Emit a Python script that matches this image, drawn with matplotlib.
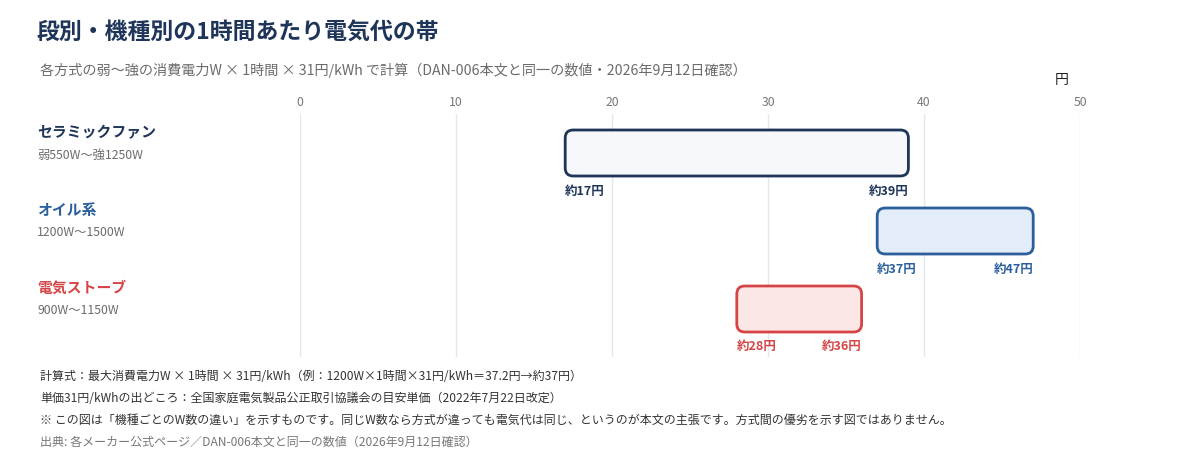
import matplotlib
matplotlib.use("Agg")
import matplotlib.pyplot as plt
from matplotlib.patches import FancyBboxPatch

plt.rcParams['font.family'] = ['Noto Sans CJK JP', 'DejaVu Sans']

categories = ["セラミックファン", "オイル系", "電気ストーブ"]
watt_labels = ["弱550W〜強1250W", "1200W〜1500W", "900W〜1150W"]
low_yen = [17, 37, 28]
high_yen = [39, 47, 36]
low_labels = ["約17円", "約37円", "約28円"]
high_labels = ["約39円", "約47円", "約36円"]
edge_colors = ["#1e3559", "#2b5f9c", "#d64545"]
fill_colors = ["#f6f8fc", "#e3edf9", "#fbe7e6"]
ticks = [0, 10, 20, 30, 40, 50]

W, H = 1200, 460
fig = plt.figure(figsize=(W / 100, H / 100), dpi=100)

def fy(y):
    return 1 - y / H

ax_left, ax_right, ax_top, ax_bot = 300, 1080, 115, 358
ax = fig.add_axes([ax_left / W, fy(ax_bot), (ax_right - ax_left) / W, (ax_bot - ax_top) / H])
row_px = 78.0
ax.set_xlim(0, 50)
ax.set_ylim(2 + (ax_bot - 310) / row_px, -(154 - ax_top) / row_px)

for s in ax.spines.values():
    s.set_visible(False)
ax.set_yticks([])
ax.xaxis.tick_top()
ax.set_xticks(ticks)
ax.set_xticklabels([str(t) for t in ticks])
ax.tick_params(axis='x', length=0, pad=4, labelsize=8.8, labelcolor='#777777')
for t in ticks:
    ax.axvline(t, color='#e4e7ee', lw=1, zorder=0)

px_x = (ax_right - ax_left) / 50.0
bar_h = 46 / row_px
r_px = 8
for i in range(len(categories)):
    x0, x1 = low_yen[i], high_yen[i]
    p = FancyBboxPatch((x0, i - bar_h / 2), x1 - x0, bar_h,
                       boxstyle=f"round,pad=0,rounding_size={r_px / px_x}",
                       mutation_aspect=px_x / row_px,
                       facecolor=fill_colors[i], edgecolor=edge_colors[i],
                       lw=2, zorder=3)
    ax.add_patch(p)
    ly = i + bar_h / 2 + 14 / row_px
    ax.text(x0, ly, low_labels[i], ha='left', va='center', fontsize=9,
            fontweight='semibold', color=edge_colors[i], zorder=4)
    ax.text(x1, ly, high_labels[i], ha='right', va='center', fontsize=9,
            fontweight='semibold', color=edge_colors[i], zorder=4)
    # category labels
    cy = 132 + i * row_px
    fig.text(37 / W, fy(cy), categories[i], ha='left', va='center', fontsize=10.7,
             fontweight='bold', color=edge_colors[i])
    fig.text(37 / W, fy(cy + 23), watt_labels[i], ha='left', va='center', fontsize=8.8,
             color='#6b6b6b')

fig.text(37 / W, fy(33), "段別・機種別の1時間あたり電気代の帯", ha='left', va='center',
         fontsize=16.5, fontweight='bold', color='#1e3559')
fig.text(40 / W, fy(70), "各方式の弱〜強の消費電力W × 1時間 × 31円/kWh で計算（DAN-006本文と同一の数値・2026年9月12日確認）",
         ha='left', va='center', fontsize=10.2, color='#6b6b6b')
fig.text(1062 / W, fy(80), "円", ha='center', va='center', fontsize=10, color='#222222')

notes = [
    ("計算式：最大消費電力W × 1時間 × 31円/kWh（例：1200W×1時間×31円/kWh＝37.2円→約37円）", '#333333'),
    ("単価31円/kWhの出どころ：全国家庭電気製品公正取引協議会の目安単価（2022年7月22日改定）", '#333333'),
    ("※ この図は「機種ごとのW数の違い」を示すものです。同じW数なら方式が違っても電気代は同じ、というのが本文の主張です。方式間の優劣を示す図ではありません。", '#333333'),
    ("出典: 各メーカー公式ページ／DAN-006本文と同一の数値（2026年9月12日確認）", '#777777'),
]
for k, (txt, c) in enumerate(notes):
    fig.text(40 / W, fy(377 + k * 21.7), txt, ha='left', va='center', fontsize=8.65, color=c)

fig.savefig("out.png", dpi=100, facecolor='white')
